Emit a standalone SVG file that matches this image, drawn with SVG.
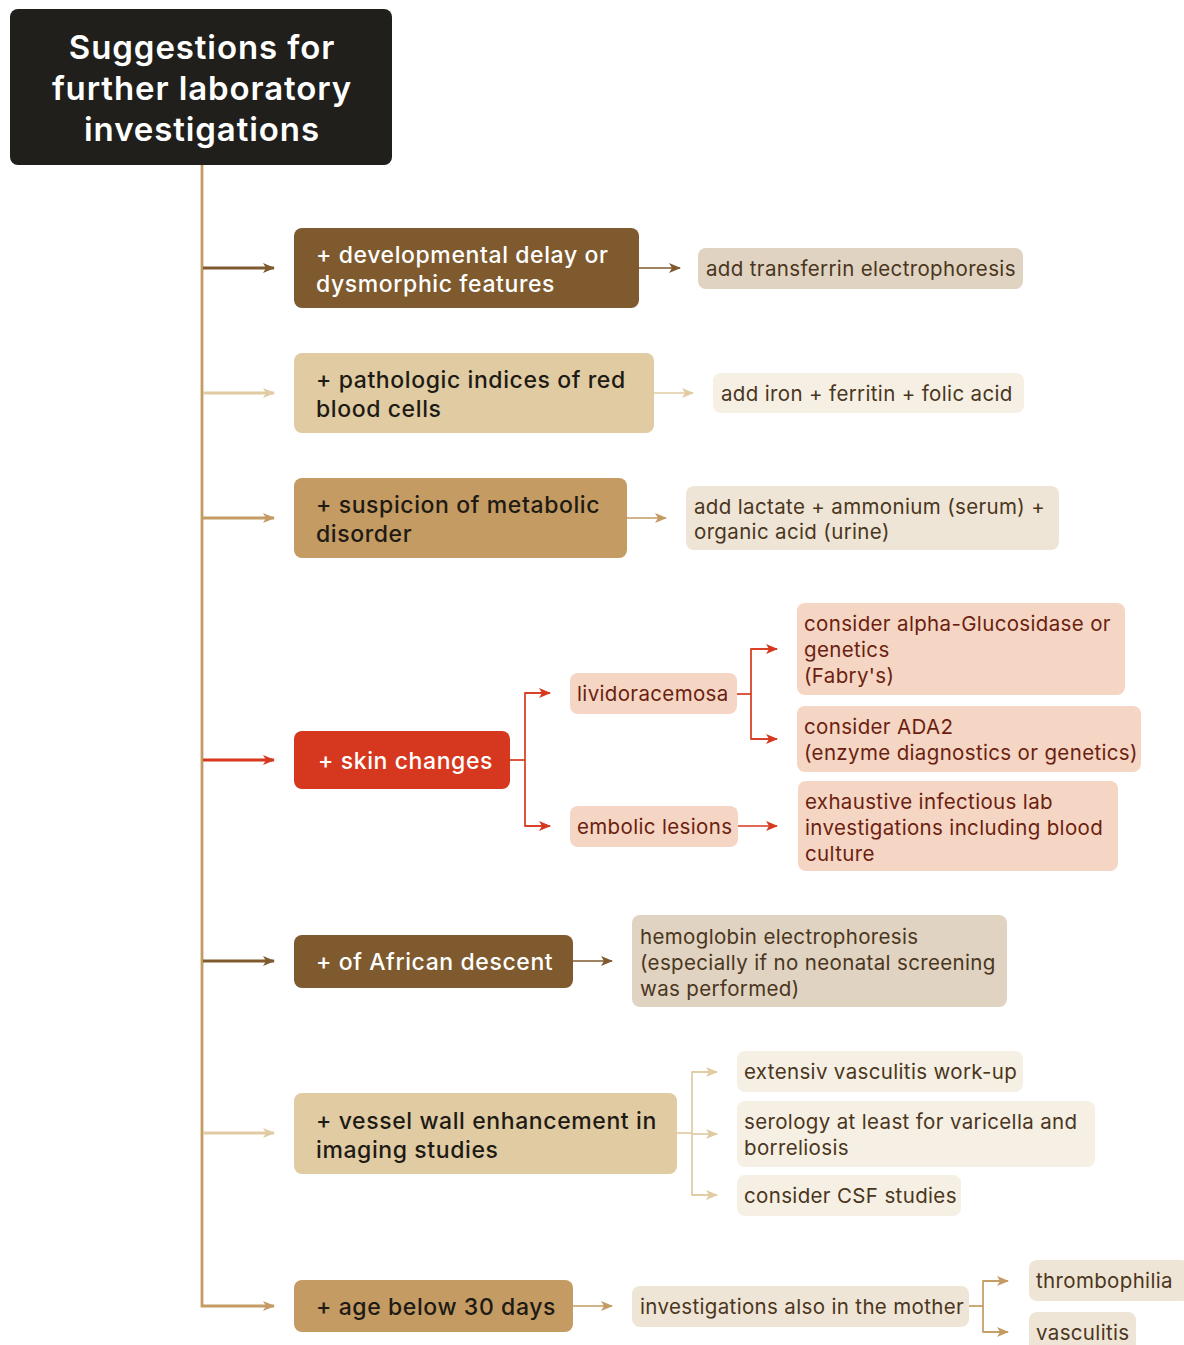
<svg xmlns="http://www.w3.org/2000/svg" width="1184" height="1345" viewBox="0 0 1184 1345">
<defs>
<style>
text{font-family:Inter,"Noto Sans","Liberation Sans",sans-serif;}
.h{font-size:33px;font-weight:600;fill:#ffffff;text-anchor:middle;letter-spacing:0.9px;}
.n{font-size:23px;font-weight:500;letter-spacing:0.6px;}
.w{fill:#ffffff;}
.d{fill:#1e1a14;}
.l{font-size:20.5px;fill:#4a3620;letter-spacing:0.35px;}
.r{font-size:20.5px;fill:#6b1f10;letter-spacing:0.35px;}
.c{fill:none;stroke-width:2.8;}
.t{fill:none;stroke-width:1.7;}
</style>
<marker id="aDB" viewBox="0 0 12 12" refX="11" refY="6" markerWidth="12" markerHeight="12" markerUnits="userSpaceOnUse" orient="auto"><path d="M0,1 L12,6 L0,11 L3,6 Z" fill="#7e5a2e"/></marker>
<marker id="aLT" viewBox="0 0 12 12" refX="11" refY="6" markerWidth="12" markerHeight="12" markerUnits="userSpaceOnUse" orient="auto"><path d="M0,1 L12,6 L0,11 L3,6 Z" fill="#e0cba2"/></marker>
<marker id="aMT" viewBox="0 0 12 12" refX="11" refY="6" markerWidth="12" markerHeight="12" markerUnits="userSpaceOnUse" orient="auto"><path d="M0,1 L12,6 L0,11 L3,6 Z" fill="#c49b63"/></marker>
<marker id="aRD" viewBox="0 0 12 12" refX="11" refY="6" markerWidth="12" markerHeight="12" markerUnits="userSpaceOnUse" orient="auto"><path d="M0,1 L12,6 L0,11 L3,6 Z" fill="#d6391f"/></marker>
</defs>
<rect width="1184" height="1345" fill="#ffffff"/>

<g id="connectors">
<path class="c" d="M202,165 V1306 H274" stroke="#c49b63" marker-end="url(#aMT)"/>
<path class="c" d="M203,268 H274" stroke="#7e5a2e" marker-end="url(#aDB)"/>
<path class="c" d="M203,393 H274" stroke="#e0cba2" marker-end="url(#aLT)"/>
<path class="c" d="M203,518 H274" stroke="#c49b63" marker-end="url(#aMT)"/>
<path class="c" d="M203,760 H274" stroke="#d6391f" marker-end="url(#aRD)"/>
<path class="c" d="M203,961 H274" stroke="#7e5a2e" marker-end="url(#aDB)"/>
<path class="c" d="M203,1133 H274" stroke="#e0cba2" marker-end="url(#aLT)"/>

<path class="t" d="M639,268 H680" stroke="#7e5a2e" marker-end="url(#aDB)"/>
<path class="t" d="M654,393 H693" stroke="#e0cba2" marker-end="url(#aLT)"/>
<path class="t" d="M627,518 H666" stroke="#c49b63" marker-end="url(#aMT)"/>

<path class="t" d="M510,760 H525" stroke="#d6391f"/>
<path class="t" d="M550,693 H525 V826 H550" stroke="#d6391f"/>
<path class="t" d="M525,693 H550" stroke="#d6391f" marker-end="url(#aRD)"/>
<path class="t" d="M525,826 H550" stroke="#d6391f" marker-end="url(#aRD)"/>
<path class="t" d="M737,694 H751" stroke="#d6391f"/>
<path class="t" d="M777,649 H751 V739 H777" stroke="#d6391f"/>
<path class="t" d="M751,649 H777" stroke="#d6391f" marker-end="url(#aRD)"/>
<path class="t" d="M751,739 H777" stroke="#d6391f" marker-end="url(#aRD)"/>
<path class="t" d="M738,826 H777" stroke="#d6391f" marker-end="url(#aRD)"/>

<path class="t" d="M573,961 H612" stroke="#7e5a2e" marker-end="url(#aDB)"/>

<path class="t" d="M677,1133 H692" stroke="#e0cba2"/>
<path class="t" d="M717,1072 H692 V1195 H717" stroke="#e0cba2"/>
<path class="t" d="M692,1072 H717" stroke="#e0cba2" marker-end="url(#aLT)"/>
<path class="t" d="M692,1134 H717" stroke="#e0cba2" marker-end="url(#aLT)"/>
<path class="t" d="M692,1195 H717" stroke="#e0cba2" marker-end="url(#aLT)"/>

<path class="t" d="M573,1306 H612" stroke="#c49b63" marker-end="url(#aMT)"/>
<path class="t" d="M969,1306 H983" stroke="#c49b63"/>
<path class="t" d="M1008,1281 H983 V1332 H1008" stroke="#c49b63"/>
<path class="t" d="M983,1281 H1008" stroke="#c49b63" marker-end="url(#aMT)"/>
<path class="t" d="M983,1332 H1008" stroke="#c49b63" marker-end="url(#aMT)"/>
</g>

<g id="root">
<rect x="10" y="9" width="382" height="156" rx="8" fill="#201f1c"/>
<text class="h" x="202" y="59">Suggestions for</text>
<text class="h" x="202" y="100">further laboratory</text>
<text class="h" x="202" y="141">investigations</text>
</g>

<g id="n1">
<rect x="294" y="228" width="345" height="80" rx="8" fill="#7e5a2e"/>
<text class="n w" x="316" y="263">+ developmental delay or</text>
<text class="n w" x="316" y="292">dysmorphic features</text>
</g>
<g id="n1a">
<rect x="698" y="248" width="325" height="41" rx="8" fill="#e0d3c1"/>
<text class="l" x="706" y="276">add transferrin electrophoresis</text>
</g>

<g id="n2">
<rect x="294" y="353" width="360" height="80" rx="8" fill="#e0cba3"/>
<text class="n d" x="316" y="388">+ pathologic indices of red</text>
<text class="n d" x="316" y="417">blood cells</text>
</g>
<g id="n2a">
<rect x="713" y="373" width="311" height="40" rx="8" fill="#f6efe4"/>
<text class="l" x="721" y="401">add iron + ferritin + folic acid</text>
</g>

<g id="n3">
<rect x="294" y="478" width="333" height="80" rx="8" fill="#c49b63"/>
<text class="n d" x="316" y="513">+ suspicion of metabolic</text>
<text class="n d" x="316" y="542">disorder</text>
</g>
<g id="n3a">
<rect x="686" y="486" width="373" height="64" rx="8" fill="#efe5d6"/>
<text class="l" x="694" y="514">add lactate + ammonium (serum) +</text>
<text class="l" x="694" y="539">organic acid (urine)</text>
</g>

<g id="n4">
<rect x="294" y="731" width="216" height="58" rx="8" fill="#d5381e"/>
<text class="n w" x="318" y="769">+ skin changes</text>
</g>
<g id="n4a">
<rect x="570" y="673" width="167" height="41" rx="8" fill="#f5d5c3"/>
<text class="r" x="577" y="701">lividoracemosa</text>
</g>
<g id="n4b">
<rect x="570" y="806" width="168" height="41" rx="8" fill="#f5d5c3"/>
<text class="r" x="577" y="834">embolic lesions</text>
</g>
<g id="n4a1">
<rect x="797" y="603" width="328" height="92" rx="8" fill="#f5d5c3"/>
<text class="r" x="804" y="631">consider alpha-Glucosidase or</text>
<text class="r" x="804" y="657">genetics</text>
<text class="r" x="804" y="683">(Fabry's)</text>
</g>
<g id="n4a2">
<rect x="797" y="706" width="344" height="66" rx="8" fill="#f5d5c3"/>
<text class="r" x="804" y="734">consider ADA2</text>
<text class="r" x="804" y="760">(enzyme diagnostics or genetics)</text>
</g>
<g id="n4b1">
<rect x="798" y="781" width="320" height="90" rx="8" fill="#f5d5c3"/>
<text class="r" x="805" y="809">exhaustive infectious lab</text>
<text class="r" x="805" y="835">investigations including blood</text>
<text class="r" x="805" y="861">culture</text>
</g>

<g id="n5">
<rect x="294" y="935" width="279" height="53" rx="8" fill="#7e5a2e"/>
<text class="n w" x="316" y="970">+ of African descent</text>
</g>
<g id="n5a">
<rect x="632" y="915" width="375" height="92" rx="8" fill="#e0d3c1"/>
<text class="l" x="640" y="944">hemoglobin electrophoresis</text>
<text class="l" x="640" y="970">(especially if no neonatal screening</text>
<text class="l" x="640" y="996">was performed)</text>
</g>

<g id="n6">
<rect x="294" y="1093" width="383" height="81" rx="8" fill="#e0cba3"/>
<text class="n d" x="316" y="1129">+ vessel wall enhancement in</text>
<text class="n d" x="316" y="1158">imaging studies</text>
</g>
<g id="n6a">
<rect x="737" y="1051" width="286" height="41" rx="8" fill="#f6efe4"/>
<text class="l" x="744" y="1079">extensiv vasculitis work-up</text>
</g>
<g id="n6b">
<rect x="737" y="1101" width="358" height="66" rx="8" fill="#f6efe4"/>
<text class="l" x="744" y="1129">serology at least for varicella and</text>
<text class="l" x="744" y="1155">borreliosis</text>
</g>
<g id="n6c">
<rect x="737" y="1175" width="224" height="41" rx="8" fill="#f6efe4"/>
<text class="l" x="744" y="1203">consider CSF studies</text>
</g>

<g id="n7">
<rect x="294" y="1280" width="279" height="52" rx="8" fill="#c49b63"/>
<text class="n d" x="316" y="1315">+ age below 30 days</text>
</g>
<g id="n7a">
<rect x="632" y="1286" width="337" height="41" rx="8" fill="#efe5d6"/>
<text class="l" x="640" y="1314">investigations also in the mother</text>
</g>
<g id="n7b">
<rect x="1029" y="1260" width="160" height="41" rx="8" fill="#efe5d6"/>
<text class="l" x="1036" y="1288">thrombophilia</text>
</g>
<g id="n7c">
<rect x="1029" y="1312" width="107" height="41" rx="8" fill="#efe5d6"/>
<text class="l" x="1036" y="1340">vasculitis</text>
</g>
</svg>
